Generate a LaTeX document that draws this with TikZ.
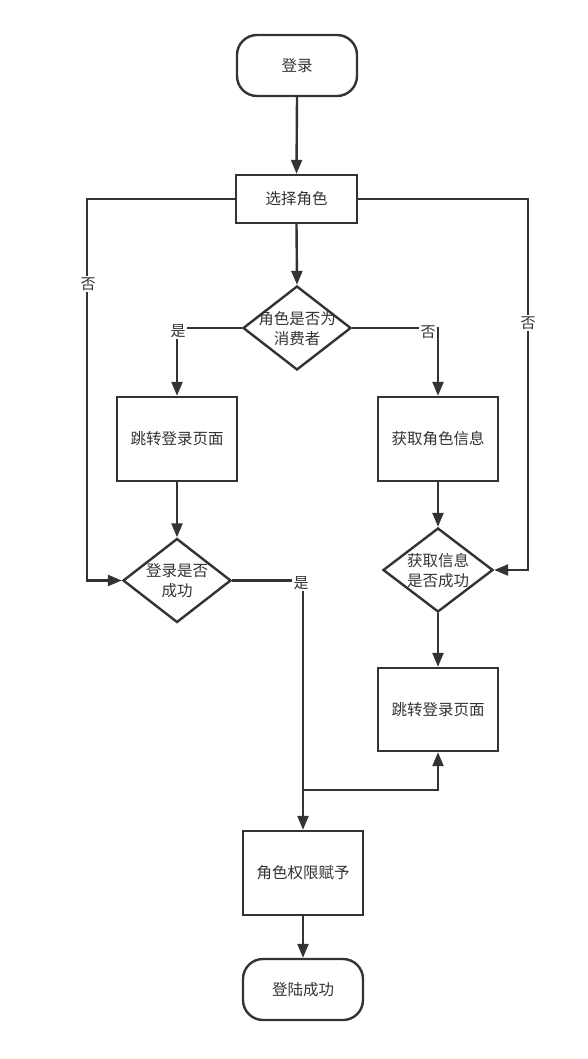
\documentclass[tikz,border=0pt]{standalone}
\usepackage{fontspec}
\newfontfamily\cjk{Noto Sans CJK SC}
\usetikzlibrary{shapes.geometric,arrows.meta}
\definecolor{ln}{HTML}{333333}
\definecolor{tx}{HTML}{333333}
\begin{document}
\begin{tikzpicture}[x=1pt,y=-1pt,
  txt/.style={font=\cjk\fontsize{15.5}{20}\selectfont, text=tx, align=center},
  box/.style={txt, draw=ln, line width=2.4pt, fill=white, inner sep=0pt, minimum width=120pt, minimum height=84pt},
  term/.style={box, rounded corners=20pt, minimum height=61pt},
  dec/.style={draw=ln, line width=2.4pt, fill=white, diamond, inner sep=0pt, minimum width=108pt, minimum height=84pt},
  arr/.style={draw=ln, line width=2.4pt, -{Triangle[length=14pt,width=11pt]}},
  lbl/.style={txt, fill=white, inner sep=1.5pt, font=\cjk\fontsize{15}{16}\selectfont}]
\useasboundingbox[fill=white] (0,0) rectangle (588,1059);

\node[term] (start) at (297,65.5) {登录};
\node[box, minimum width=121pt, minimum height=48pt] (sel) at (296.5,199) {选择角色};
\node[dec] (d1) at (297,328) {};
\node[txt] (d1t) at (297,329) {角色是否为\\消费者};
\node[box] (lb) at (177,439) {跳转登录页面};
\node[box] (rb1) at (438,439) {获取角色信息};
\node[dec] (d2) at (177,580.5) {};
\node[txt] (d2t) at (177,581) {登录是否\\成功};
\node[dec, minimum width=110pt] (d4) at (438,570) {};
\node[txt] (d4t) at (438,571) {获取信息\\是否成功};
\node[box, minimum height=83pt] (rb2) at (438,709.5) {跳转登录页面};
\node[box] (role) at (303,873) {角色权限赋予};
\node[term] (fin) at (303,989.5) {登陆成功};

\coordinate (L) at (87,199);
\coordinate (R) at (528,199);
\coordinate (J) at (303,790);

\draw[arr] (start.south) -- (sel.north);
\draw[arr] (sel.south) -- (d1.north);
\draw[arr] (d1.west) -| (lb.north);
\draw[arr] (d1.east) -| (rb1.north);
\draw[arr] (lb.south) -- (d2.north);
\draw[arr] (rb1.south) -- (d4.north);
\draw[arr] (d4.south) -- (rb2.north);
\draw[arr] (sel.west) -- (L) |- (d2.west);
\draw[arr] (sel.east) -- (R) |- (d4.east);
\draw[arr] (d2.east) -| (role.north);
\draw[arr] (J) -| (rb2.south);
\draw[arr] (role.south) -- (fin.north);

\node[lbl] (y1) at (178,331) {是};
\node[lbl] (n1) at (428,332) {否};
\node[lbl] (n2) at (88,284) {否};
\node[lbl] (n3) at (528,323) {否};
\node[lbl] (y2) at (301,583) {是};
\end{tikzpicture}
\end{document}
